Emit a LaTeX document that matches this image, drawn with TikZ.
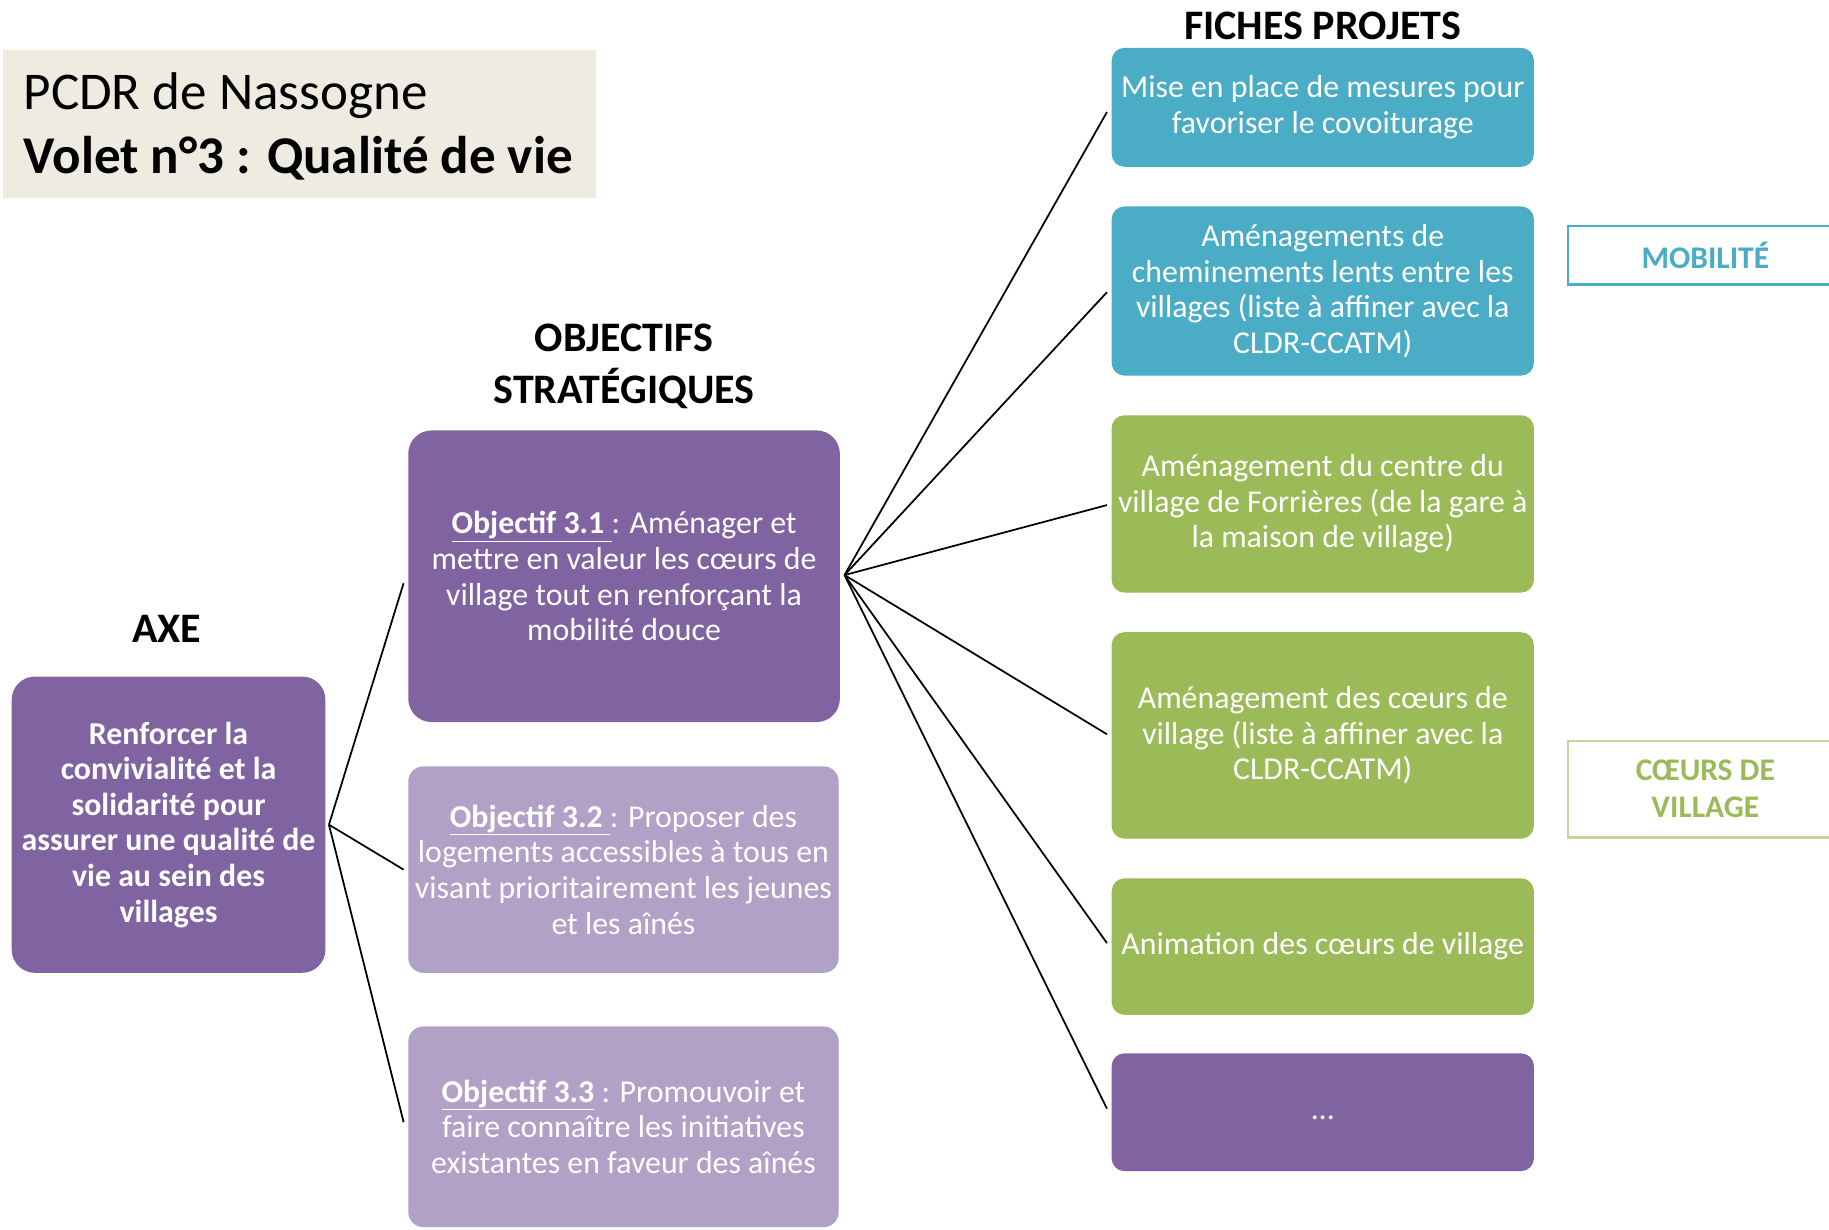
\documentclass[tikz,border=0pt]{standalone}
\usepackage{fontspec}
\setmainfont{Carlito}
\usetikzlibrary{calc}
\definecolor{purp}{HTML}{8064A2}
\definecolor{lpurp}{HTML}{B2A1C7}
\definecolor{pblue}{HTML}{4BACC6}
\definecolor{pgreen}{HTML}{9BBB59}
\definecolor{lgreen}{HTML}{C3D69B}
\definecolor{beige}{HTML}{EEECE1}
\newcommand{\boxfont}{\fontsize{27.3}{30.5}\selectfont}
\newcommand{\headfont}{\fontsize{36}{44}\selectfont\bfseries}
\newcommand{\titlefont}{\fontsize{45.5}{55}\selectfont}
\newcommand{\tagfont}{\fontsize{27}{32}\selectfont\bfseries}
\begin{document}
\begin{tikzpicture}[x=1pt,y=-1pt,
  cbox/.style={inner sep=0pt, outer sep=0pt, anchor=north west, align=center,
    font=\boxfont, text=white},
  projbox/.style={cbox, rounded corners=11pt, minimum width=362pt},
  heading/.style={inner sep=0pt, anchor=base, font=\headfont, text=black},
  tagbox/.style={inner sep=0pt, outer sep=0pt, anchor=north west, align=center,
    font=\tagfont, fill=white, line width=2pt, minimum width=236pt},
  conn/.style={draw=black, line width=1.5pt}]
\useasboundingbox (0,0) rectangle (1568,1054);
\fill[white] (0,0) rectangle (1568,1054);

% title
\node[cbox, fill=beige, text=black, anchor=north west,
  minimum width=508pt, minimum height=127pt] (title) at (3,43) {};
\node[anchor=base west, inner sep=0pt, font=\titlefont] (t1) at (20,94) {PCDR de Nassogne};
\node[anchor=base west, inner sep=0pt, font=\titlefont\bfseries] (t2) at (20,149) {Volet n°3 : Qualité de vie};

% headings
\node[heading] (hfiches) at (1134,33.5) {FICHES PROJETS};
\node[heading] (hobj1) at (535,301.5) {OBJECTIFS};
\node[heading] (hobj2) at (535,345.5) {STRATÉGIQUES};
\node[heading] (haxe) at (143,550.5) {AXE};

% axe
\node[cbox, fill=purp, rounded corners=20pt, minimum width=269pt, minimum height=254pt,
  font=\boxfont\bfseries] (axe) at (10,580)
  {Renforcer la\\convivialité et la\\solidarité pour\\assurer une qualité de\\vie au sein des\\villages};

% objectives
\node[cbox, fill=purp, rounded corners=20pt, minimum width=370pt, minimum height=250pt] (o1) at (350,369)
  {\underline{\textbf{Objectif 3.1 }}: Aménager et\\mettre en valeur les cœurs de\\village tout en renforçant la\\mobilité douce};
\node[cbox, fill=lpurp, rounded corners=13pt, minimum width=369pt, minimum height=177pt] (o2) at (350,657)
  {\underline{\textbf{Objectif 3.2 }}: Proposer des\\logements accessibles à tous en\\visant prioritairement les jeunes\\et les aînés};
\node[cbox, fill=lpurp, rounded corners=13pt, minimum width=369pt, minimum height=172pt] (o3) at (350,880)
  {\underline{\textbf{Objectif 3.3}} : Promouvoir et\\faire connaître les initiatives\\existantes en faveur des aînés};

% projects
\node[projbox, fill=pblue, minimum height=102pt] (p1) at (953,41)
  {Mise en place de mesures pour\\favoriser le covoiturage};
\node[projbox, fill=pblue, minimum height=145pt] (p2) at (953,177)
  {Aménagements de\\cheminements lents entre les\\villages (liste à affiner avec la\\CLDR-CCATM)};
\node[projbox, fill=pgreen, minimum height=152pt] (p3) at (953,356)
  {Aménagement du centre du\\village de Forrières (de la gare à\\la maison de village)};
\node[projbox, fill=pgreen, minimum height=177pt] (p4) at (953,542)
  {Aménagement des cœurs de\\village (liste à affiner avec la\\CLDR-CCATM)};
\node[projbox, fill=pgreen, minimum height=117pt] (p5) at (953,753)
  {Animation des cœurs de village};
\node[projbox, fill=purp, minimum height=101pt] (p6) at (953,903)
  {\smash{\raisebox{-6pt}{…}}};

% tags
\node[tagbox, draw=pblue, text=pblue, minimum height=50pt] (tmob) at (1344,194) {MOBILITÉ};
\node[tagbox, draw=lgreen, text=pgreen, minimum height=83pt] (tcoeur) at (1344,635) {CŒURS DE\\VILLAGE};

% connectors
\coordinate (axehub) at ($(axe.east)+(3,0)$);
\coordinate (o1hub) at ($(o1.east)+(4,-1)$);
\draw[conn] (axehub) -- ($(o1.west)+(-4,6)$);
\draw[conn] (axehub) -- ($(o2.west)+(-4,0)$);
\draw[conn] (axehub) -- ($(o3.west)+(-4,-4)$);
\draw[conn] (o1hub) -- ($(p1.west)+(-4,4)$);
\draw[conn] (o1hub) -- ($(p2.west)+(-4,1)$);
\draw[conn] (o1hub) -- ($(p3.west)+(-4,1)$);
\draw[conn] (o1hub) -- ($(p4.west)+(-4,-1)$);
\draw[conn] (o1hub) -- ($(p5.west)+(-4,-3)$);
\draw[conn] (o1hub) -- ($(p6.west)+(-4,-3)$);
\end{tikzpicture}
\end{document}
